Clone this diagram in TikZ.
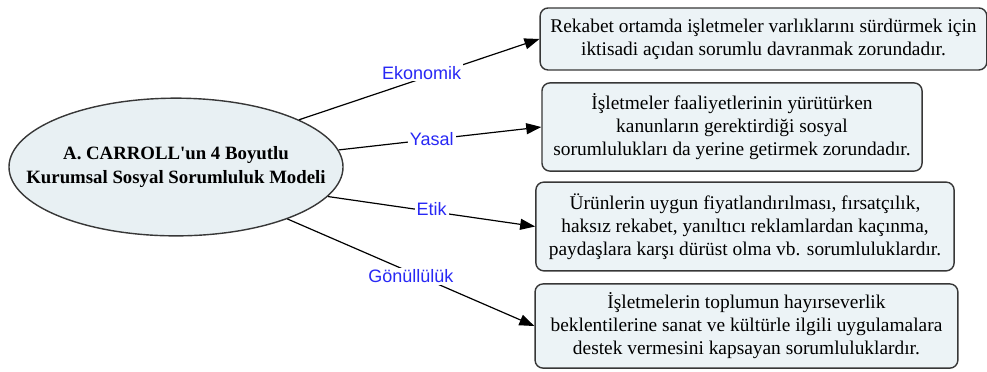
\documentclass[tikz,border=0pt]{standalone}
\usepackage{fontspec}
\setmainfont{Liberation Serif}
\newfontfamily\labelfont{Liberation Sans}
\usepackage{xcolor}
\definecolor{csrfill}{RGB}{236,243,246}
\definecolor{csrellipse}{RGB}{232,240,243}
\definecolor{csrline}{RGB}{55,55,55}
\definecolor{csrblue}{RGB}{40,40,245}
\usetikzlibrary{arrows.meta,positioning,shapes.geometric,calc}

\begin{document}
\begin{tikzpicture}[
  descbox/.style={
    rectangle, rounded corners=4pt,
    inner sep=0pt,
    draw=csrline, line width=0.7pt,
    fill=csrfill,
    font=\fontsize{9.7}{11.5}\selectfont,
    align=center
  },
  modelnode/.style={
    ellipse, inner xsep=-17pt, inner ysep=0pt,
    minimum width=5.87cm, minimum height=2.42cm,
    draw=csrline, line width=0.7pt,
    fill=csrellipse,
    font=\fontsize{9.4}{12}\selectfont\bfseries,
    align=center
  },
  dimlabel/.style={
    fill=white, inner sep=1pt,
    font=\fontsize{9}{11}\selectfont\labelfont,
    text=csrblue
  },
  conn/.style={-{Triangle[length=7.5pt,width=5.5pt]}, line width=0.6pt, draw=black}
]
\useasboundingbox (0,0) rectangle (17.345,-6.52);

\node[modelnode] (model) at (3.093,-2.935)
  {A. CARROLL\textquotesingle un 4 Boyutlu\\Kurumsal Sosyal Sorumluluk Modeli};

\node[descbox, minimum width=7.85cm, minimum height=1.09cm] (ekonomik) at (13.417,-0.685)
  {Rekabet ortamda işletmeler varlıklarını sürdürmek için\\iktisadi açıdan sorumlu davranmak zorundadır.};
\node[descbox, minimum width=6.68cm, minimum height=1.55cm] (yasal) at (12.864,-2.232)
  {İşletmeler faaliyetlerinin yürütürken\\kanunların gerektirdiği sosyal\\sorumlulukları da yerine getirmek zorundadır.};
\node[descbox, minimum width=7.35cm, minimum height=1.56cm] (etik) at (13.092,-3.98)
  {Ürünlerin uygun fiyatlandırılması, fırsatçılık,\\haksız rekabet, yanıltıcı reklamlardan kaçınma,\\paydaşlara karşı dürüst olma vb. sorumluluklardır.};
\node[descbox, minimum width=7.43cm, minimum height=1.48cm] (gonullu) at (13.118,-5.729)
  {İşletmelerin toplumun hayırseverlik\\beklentilerine sanat ve kültürle ilgili uygulamalara\\destek vermesini kapsayan sorumluluklardır.};

% dimensions
\draw[conn] (model.21) -- node[dimlabel, pos=0.51, yshift=3pt] {Ekonomik} (ekonomik.west);
\draw[conn] (model.6) -- node[dimlabel, pos=0.46] {Yasal} (yasal.west);
\draw[conn] (model.-11) -- node[dimlabel, pos=0.5, yshift=1pt] {Etik} (etik.west);
\draw[conn] (model.-25) -- node[dimlabel, pos=0.5, yshift=-2pt] {Gönüllülük} (gonullu.west);
\end{tikzpicture}
\end{document}
